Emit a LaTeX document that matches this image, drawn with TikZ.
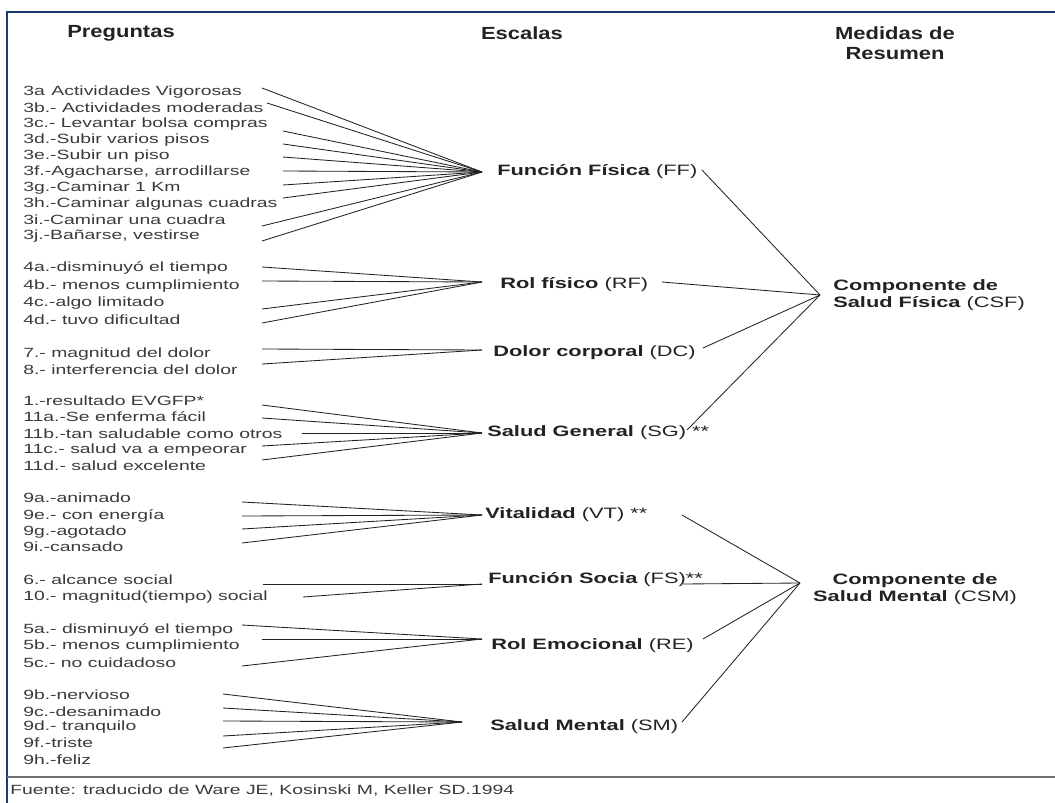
\documentclass[tikz,border=0pt]{standalone}
\usepackage{fontspec}
\setmainfont{Liberation Sans}[FakeStretch=1.45]
\setsansfont{Liberation Sans}[FakeStretch=1.45]
\newfontfamily\hdrfont{Liberation Sans}[FakeStretch=1.25]
\usetikzlibrary{positioning}
\definecolor{marco}{HTML}{1F3A6E}
\definecolor{sepg}{HTML}{707070}
\definecolor{ink}{HTML}{222222}
\definecolor{txt}{HTML}{3A3A3A}
\tikzset{
  every node/.style={font=\sffamily, inner sep=0pt},
  hdr/.style ={font=\hdrfont\bfseries\fontsize{12.5}{14.5}\selectfont, text=ink, align=center},
  itm/.style ={anchor=west, font=\sffamily\fontsize{9.5}{11}\selectfont, text=txt},
  esc/.style ={anchor=west, font=\sffamily\bfseries\fontsize{10.7}{13}\selectfont, text=ink},
  comp/.style={esc, font=\sffamily\bfseries\fontsize{10.7}{12.2}\selectfont},
  ln/.style  ={draw=ink, line width=0.6pt},
}
\newcommand{\ab}[1]{{\mdseries #1}}

\begin{document}
\begin{tikzpicture}[x=0.025cm, y=-0.025cm]
\useasboundingbox (0,0) rectangle (1055,803);

% ============ frame ==========================================================
\draw[marco, line width=1.5pt] (7,803) -- (7,12) -- (1055,12);
\draw[sepg, line width=1.5pt] (7,777) -- (1055,777);

% ============ headers ========================================================
\node[hdr] (hPre) at (121,33) {Preguntas};
\node[hdr] (hEsc) at (522,33) {Escalas};
\node[hdr] (hMed) at (895,43) {Medidas de\\Resumen};

% ============ scales (tip = where the items meet) ============================
\foreach \s/\tx/\ty/\wx/\wy/\lbl in {%
  FF/482/172/497/172/{Función Física \ab{(FF)}},
  RF/482/282/500/285/{Rol físico \ab{(RF)}},
  DC/482/350/493/353/{Dolor corporal \ab{(DC)}},
  SG/482/433/487/433/{Salud General \ab{(SG) **}},
  VT/482/515/485/515/{Vitalidad \ab{(VT) **}},
  FS/482/584/488/580/{Función Socia \ab{(FS)**}},
  RE/482/639/491/646/{Rol Emocional \ab{(RE)}},
  SM/462/722/490/727/{Salud Mental \ab{(SM)}}}{
  \coordinate (t\s) at (\tx,\ty);
  \node[esc] (\s) at (\wx,\wy) {\lbl};
}

% ============ summary measures ===============================================
\coordinate (tCSF) at (820,295);
\coordinate (tCSM) at (800,583);
\node[comp, align=left, anchor=west] (CSF) at (833,295) {Componente de\\Salud Física \ab{(CSF)}};
\node[comp, align=center, anchor=center] (CSM) at (915,589) {Componente de\\Salud Mental \ab{(CSM)}};

% ============ questions ======================================================
\foreach \g/\txt/\ty/\lx/\ly [count=\k] in {%
  FF/{3a\enspace Actividades Vigorosas}/92/262/88,
  FF/{3b.- Actividades moderadas}/108/267/103,
  FF/{3c.- Levantar bolsa compras}/124/283/131,
  FF/{3d.-Subir varios pisos}/140/283/144,
  FF/{3e.-Subir un piso}/156/283/157,
  FF/{3f.-Agacharse, arrodillarse}/172/283/171,
  FF/{3g.-Caminar 1 Km}/188/283/185,
  FF/{3h.-Caminar algunas cuadras}/204/283/198,
  FF/{3i.-Caminar una cuadra}/220/262/226,
  FF/{3j.-Bañarse, vestirse}/236/262/241,
  RF/{4a.-disminuyó el tiempo}/268/262/267,
  RF/{4b.- menos cumplimiento}/286/262/281,
  RF/{4c.-algo limitado}/303/262/309,
  RF/{4d.- tuvo dificultad}/320/262/323,
  DC/{7.- magnitud del dolor}/354/262/349,
  DC/{8.- interferencia del dolor}/370/262/364,
  SG/{1.-resultado EVGFP*}/401/262/405,
  SG/{11a.-Se enferma fácil}/417/262/418,
  SG/{11b.-tan saludable como otros}/434/302/433,
  SG/{11c.- salud va a empeorar}/450/262/446,
  SG/{11d.- salud excelente}/466/262/460,
  VT/{9a.-animado}/498/242/502,
  VT/{9e.- con energía}/516/242/516,
  VT/{9g.-agotado}/532/242/529,
  VT/{9i.-cansado}/547/242/543,
  FS/{6.- alcance social}/580/263/584,
  FS/{10.- magnitud(tiempo) social}/597/303/597,
  RE/{5a.- disminuyó el tiempo}/630/242/625,
  RE/{5b.- menos cumplimiento}/646/262/639,
  RE/{5c.- no cuidadoso}/663/242/666,
  SM/{9b.-nervioso}/695/223/694,
  SM/{9c.-desanimado}/712/223/708,
  SM/{9d.- tranquilo}/727/223/721,
  SM/{9f.-triste}/743/223/736,
  SM/{9h.-feliz}/760/223/748}{
  \node[itm] (q\k) at (23,\ty) {\txt};
  \coordinate (l\k) at (\lx,\ly);
  \draw[ln] (l\k) -- (t\g);
}

% ============ scales -> summary ==============================================
\foreach \s/\ox/\oy/\c in {FF/702/170/CSF, RF/662/282/CSF, DC/703/348/CSF, SG/687/430/CSF,
  VT/682/515/CSM, FS/683/584/CSM, RE/703/639/CSM, SM/682/722/CSM}{
  \coordinate (o\s) at (\ox,\oy);
  \draw[ln] (o\s) -- (t\c);
}

% ============ source =========================================================
\node[itm] (fuente) at (10,791) {Fuente: traducido de Ware JE, Kosinski M, Keller SD.1994};

\end{tikzpicture}
\end{document}
